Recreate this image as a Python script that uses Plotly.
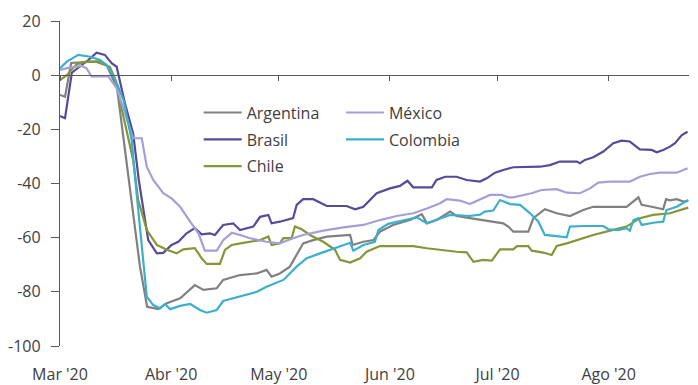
import plotly.graph_objects as go
import pandas as pd

START = pd.Timestamp("2020-03-01")
END_DAY = 175.4

# days since 1 Mar 2020, and index values
arg_days = [0, 1.4, 3.1, 11.2, 13.1, 15.9, 22.3, 24.3, 27.4, 29.8, 33.5, 37.6, 40.0, 43.7, 45.5, 50.2, 54.9, 57.6, 59.0, 61.3, 64.1, 67.8, 70.6, 74.4, 80.9, 81.6, 84.6, 87.4, 89.2, 92.9, 97.6, 100.9, 102.3, 105.0, 108.8, 110.6, 114.3, 119.9, 123.6, 125.0, 126.4, 130.6, 132.0, 135.2, 138.5, 142.2, 145.9, 148.7, 158.0, 161.3, 162.2, 165.0, 168.2, 169.0, 170.1, 172.0, 173.8, 175.2]
arg_vals = [-7.3, -8.0, 4.5, 5.2, 3.5, -4.7, -70.7, -85.5, -86.4, -84.2, -82.4, -77.5, -79.3, -78.7, -75.6, -73.8, -73.2, -71.9, -74.4, -73.2, -70.7, -62.1, -60.9, -59.6, -59.0, -62.7, -61.5, -60.9, -57.8, -55.3, -53.5, -51.3, -54.7, -53.5, -50.4, -52.0, -52.8, -54.1, -54.7, -55.9, -57.8, -57.8, -52.8, -49.5, -51.0, -52.0, -49.8, -48.6, -48.6, -45.1, -47.9, -48.6, -49.5, -45.8, -46.2, -45.8, -46.7, -46.4]

bra_days = [0, 1.4, 3.3, 5.6, 7.9, 10.2, 12.5, 14.4, 15.8, 18.1, 20.4, 22.0, 24.6, 27.0, 28.8, 31.1, 33.0, 35.3, 37.6, 39.5, 41.8, 43.2, 45.5, 48.3, 50.2, 53.9, 55.8, 58.1, 59.0, 61.3, 65.0, 66.0, 67.8, 70.6, 74.4, 79.9, 82.3, 84.6, 86.4, 88.3, 92.0, 94.8, 96.9, 98.5, 103.7, 105.0, 107.4, 110.6, 113.4, 117.1, 119.0, 121.3, 123.6, 126.4, 133.9, 136.6, 139.4, 144.1, 145.0, 146.4, 148.7, 151.5, 154.3, 156.6, 158.9, 161.7, 165.0, 166.4, 168.2, 170.1, 171.5, 173.4, 175.0]
bra_vals = [-15.1, -15.9, 0.9, 3.1, 5.6, 8.3, 7.5, 4.4, 3.1, -10.4, -21.5, -39.0, -60.9, -65.8, -65.6, -62.7, -61.5, -58.4, -56.5, -58.8, -58.4, -59.0, -55.3, -54.7, -57.2, -55.9, -52.3, -51.6, -54.7, -54.1, -52.8, -47.9, -45.8, -45.8, -48.3, -48.3, -49.5, -48.6, -46.1, -43.6, -41.8, -40.9, -39.0, -41.4, -41.4, -38.7, -37.5, -37.5, -38.7, -39.3, -38.1, -36.0, -35.0, -34.0, -33.8, -33.2, -31.9, -31.9, -32.5, -31.3, -30.3, -28.2, -25.1, -24.2, -24.5, -27.4, -27.6, -28.5, -27.6, -26.4, -25.1, -22.1, -20.9]

chi_days = [0, 1.9, 4.7, 7.4, 10.2, 12.5, 13.9, 15.3, 18.6, 20.4, 21.8, 24.2, 27.0, 29.8, 32.5, 34.4, 37.6, 39.5, 40.9, 44.6, 46.0, 47.9, 51.1, 55.8, 58.1, 59.0, 61.3, 62.3, 64.6, 65.5, 67.4, 69.7, 73.4, 76.7, 78.1, 80.9, 83.7, 85.5, 89.2, 98.5, 102.3, 106.0, 110.6, 113.4, 115.3, 118.0, 120.4, 122.7, 126.4, 127.4, 130.6, 131.5, 134.8, 137.1, 138.5, 141.3, 145.0, 148.7, 153.4, 158.0, 161.7, 165.4, 170.1, 172.9, 175.2]
chi_vals = [-1.8, 0.0, 4.1, 5.0, 4.9, 3.8, 3.1, -1.2, -21.5, -31.3, -46.1, -57.2, -62.7, -64.5, -65.8, -64.3, -63.9, -67.6, -69.7, -69.7, -64.5, -62.7, -61.9, -60.9, -59.6, -62.7, -62.1, -60.2, -60.2, -55.9, -56.9, -59.0, -61.5, -64.5, -68.2, -69.2, -67.6, -65.2, -63.1, -63.1, -63.9, -64.5, -65.2, -65.4, -68.9, -68.2, -68.5, -64.3, -64.3, -63.1, -63.1, -64.8, -65.5, -66.4, -63.1, -62.1, -60.6, -59.0, -57.4, -55.9, -52.8, -51.6, -51.0, -50.0, -48.9]

mex_days = [0, 1.9, 6.1, 7.4, 8.8, 13.5, 15.8, 18.6, 20.4, 22.8, 24.2, 26.0, 28.8, 31.1, 33.5, 36.3, 38.6, 40.4, 43.7, 45.5, 47.9, 50.2, 53.0, 57.6, 61.3, 65.0, 67.8, 73.4, 79.0, 84.6, 89.2, 93.9, 98.5, 102.3, 106.0, 107.8, 111.5, 114.3, 117.1, 119.9, 123.2, 125.0, 126.4, 129.2, 131.5, 134.3, 138.5, 141.3, 145.0, 147.8, 150.1, 153.4, 158.9, 161.7, 164.5, 167.3, 172.0, 175.0]
mex_vals = [1.9, 2.6, 3.4, 2.5, -0.5, -0.5, -4.8, -15.9, -23.3, -23.3, -33.8, -38.7, -43.6, -45.5, -48.6, -54.1, -58.4, -64.8, -64.8, -60.9, -58.2, -59.0, -60.2, -61.5, -62.1, -60.2, -59.0, -57.4, -56.2, -55.3, -53.5, -52.0, -51.0, -49.2, -47.3, -45.8, -46.3, -47.6, -45.8, -44.2, -44.2, -45.1, -45.1, -44.2, -43.6, -42.4, -42.1, -43.4, -43.6, -41.8, -39.7, -39.3, -39.3, -37.5, -36.5, -36.0, -36.0, -34.4]

col_days = [0, 1.9, 5.1, 8.4, 11.2, 13.0, 15.3, 17.7, 20.0, 21.0, 24.2, 26.0, 27.9, 29.3, 30.7, 33.5, 36.3, 39.0, 40.9, 43.7, 45.5, 48.3, 52.1, 54.9, 57.6, 61.3, 62.3, 66.0, 68.8, 72.5, 77.2, 80.9, 81.8, 84.6, 87.8, 88.8, 91.5, 95.7, 99.5, 102.3, 105.0, 108.8, 114.3, 117.1, 118.5, 120.8, 122.7, 125.5, 128.3, 131.1, 133.4, 135.2, 138.5, 141.3, 142.2, 145.9, 151.5, 152.9, 155.7, 158.0, 158.9, 159.9, 161.3, 162.2, 165.4, 168.2, 169.1, 172.0, 175.2]
col_vals = [2.5, 5.0, 7.5, 6.8, 5.6, 3.8, -1.2, -9.2, -24.0, -38.7, -81.8, -84.9, -86.1, -84.5, -86.4, -85.2, -84.5, -86.7, -87.7, -86.7, -83.4, -82.4, -81.2, -80.0, -78.1, -76.3, -75.6, -70.7, -67.6, -65.8, -63.6, -61.9, -64.8, -62.7, -61.5, -57.2, -54.9, -53.5, -52.5, -54.7, -53.5, -51.6, -52.0, -51.5, -50.4, -50.0, -46.1, -47.6, -47.9, -51.0, -54.1, -59.0, -59.4, -59.9, -55.9, -55.7, -55.7, -56.9, -57.2, -56.5, -57.4, -53.5, -52.8, -55.3, -54.5, -54.1, -49.8, -48.6, -46.1]

month_ticks = ["2020-03-01", "2020-04-01", "2020-05-01", "2020-06-01", "2020-07-01", "2020-08-01"]
month_labels = ["Mar '20", "Abr '20", "May '20", "Jun '20", "Jul '20", "Ago '20"]
y_ticks = [20, 0, -20, -40, -60, -80, -100]
y_labels = ["20", "0", "-20", "-40", "-60", "-80", "-100"]

series = [
    ("Argentina", arg_days, arg_vals, "#808080", "legend", 1),
    ("Brasil", bra_days, bra_vals, "#574a98", "legend", 2),
    ("Chile", chi_days, chi_vals, "#84963a", "legend", 3),
    ("México", mex_days, mex_vals, "#a59fd8", "legend2", 1),
    ("Colombia", col_days, col_vals, "#3cafcc", "legend2", 2),
]

def to_dates(days):
    return [START + pd.Timedelta(days=d) for d in days]

FONT = "Open Sans, Noto Sans, sans-serif"
TXT = "#404040"
AX = "#595959"

fig = go.Figure()
for name, d, v, c, lg, rank in series:
    fig.add_trace(go.Scatter(
        x=to_dates(d), y=v, mode="lines", name=name,
        line=dict(color=c, width=2.2),
        legend=lg, legendgroup=name, legendrank=rank,
    ))

leg_common = dict(
    xanchor="left", yanchor="top", bgcolor="rgba(0,0,0,0)",
    font=dict(family=FONT, size=16, color=TXT),
    traceorder="grouped", tracegroupgap=3, borderwidth=0,
    itemwidth=38,
)

fig.update_layout(
    width=698, height=385,
    margin=dict(l=60, r=9, t=21, b=39, autoexpand=False),
    paper_bgcolor="white", plot_bgcolor="white",
    font=dict(family=FONT, size=16, color=TXT),
    showlegend=True,
    legend=dict(x=0.2205, y=0.7705, **leg_common),
    legend2=dict(x=0.4467, y=0.7705, **leg_common),
    xaxis=dict(
        type="date",
        range=[START, START + pd.Timedelta(days=END_DAY)],
        anchor="free", position=100 / 120,
        automargin=False,
        showline=True, linecolor=AX, linewidth=1.3,
        ticks="outside", ticklen=5, tickcolor=AX, tickwidth=1.3,
        tickvals=month_ticks, ticktext=month_labels,
        ticklabelstandoff=279,
        showgrid=False, zeroline=False,
        tickfont=dict(family=FONT, size=16, color=TXT),
    ),
    yaxis=dict(
        range=[-100, 20],
        automargin=False,
        tickvals=y_ticks, ticktext=y_labels,
        showline=True, linecolor=AX, linewidth=1.3,
        ticks="outside", ticklen=8, tickcolor=AX, tickwidth=1.3,
        ticklabelstandoff=7,
        showgrid=False, zeroline=False,
        tickfont=dict(family=FONT, size=16, color=TXT),
    ),
)

fig.write_html("out.html")
